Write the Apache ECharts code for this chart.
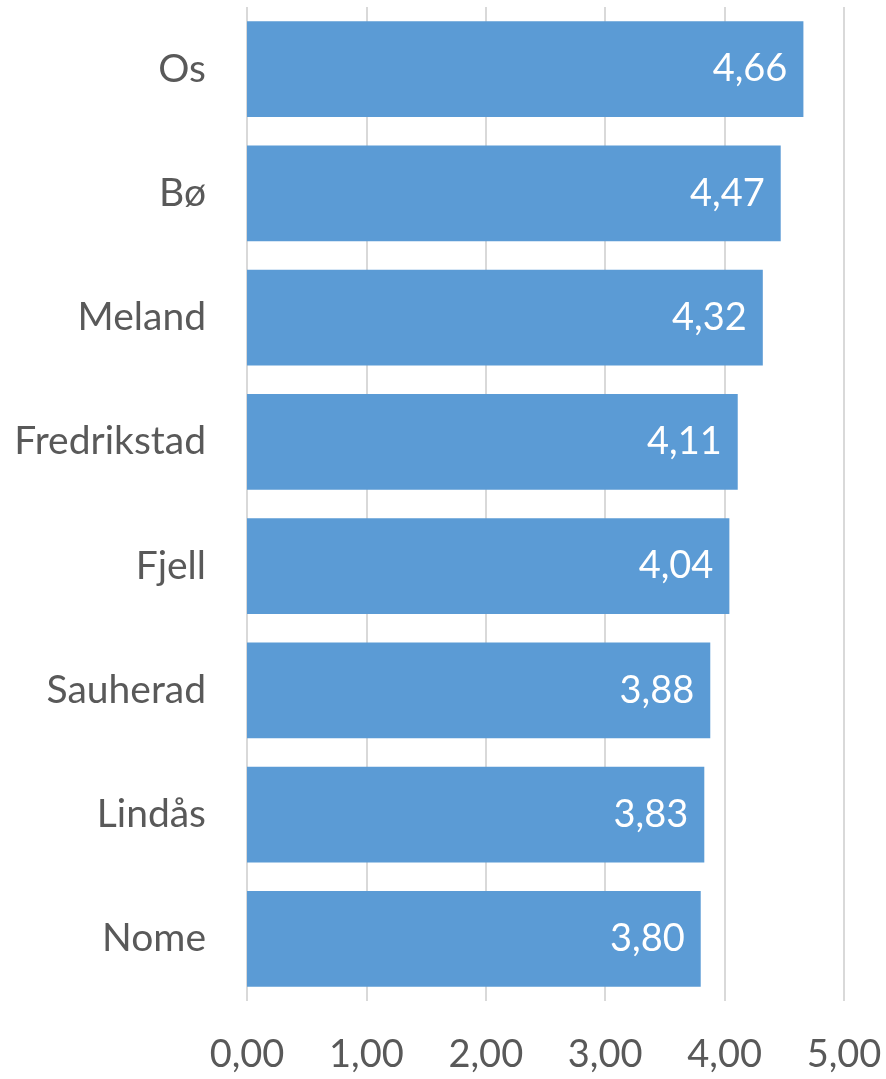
<!DOCTYPE html>
<html><head><meta charset="utf-8">
<script src="https://cdn.jsdelivr.net/npm/echarts@6/dist/echarts.min.js"></script>
<style>html,body{margin:0;padding:0;background:#fff}#c{width:886px;height:1079px}</style>
</head><body><div id="c"></div>
<script>
const categories = ["Os","Bø","Meland","Fredrikstad","Fjell","Sauherad","Lindås","Nome"];
const values = [4.66,4.47,4.32,4.11,4.04,3.88,3.83,3.80];
const xTicks = [0,1,2,3,4,5];
const fmt = v => v.toFixed(2).replace('.', ',');
const chart = echarts.init(document.getElementById('c'));
const font = 'Lato, "Open Sans", sans-serif';
chart.setOption({
  animation:false,
  grid:{left:247,right:42,top:7,bottom:78,containLabel:false},
  xAxis:{type:'value',min:xTicks[0],max:xTicks[xTicks.length-1],interval:1,
    axisLine:{show:false},axisTick:{show:false},
    splitLine:{show:true,lineStyle:{color:'#d9d9d9',width:2}},
    axisLabel:{formatter:fmt,color:'#595959',fontSize:38,fontFamily:font,margin:35}},
  yAxis:{type:'category',data:categories.slice().reverse(),
    axisLine:{show:false},axisTick:{show:false},
    axisLabel:{color:'#595959',fontSize:39,fontFamily:font,margin:41}},
  series:[{type:'bar',data:values.slice().reverse(),barCategoryGap:'23%',
    itemStyle:{color:'#5B9BD5'},
    label:{show:true,position:'insideRight',formatter:p=>fmt(p.value),color:'#fff',fontSize:38,fontFamily:font,distance:16}}]
});
</script></body></html>
